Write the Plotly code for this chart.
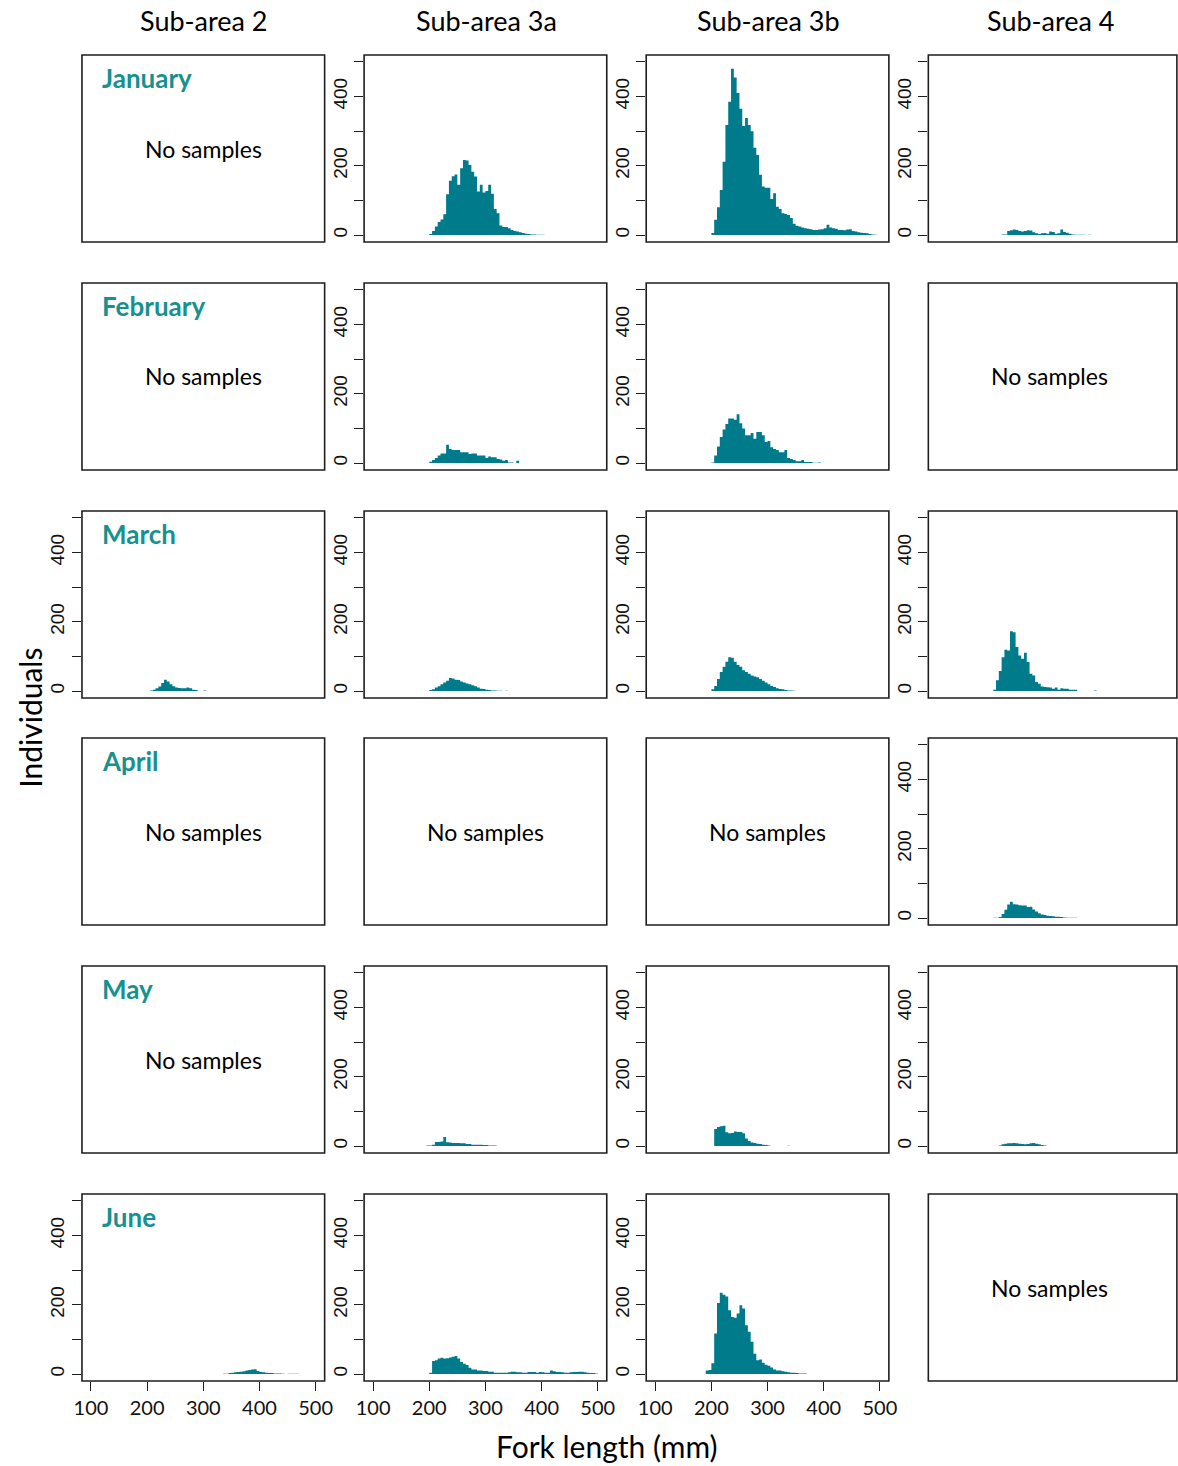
import plotly.graph_objects as go

# ---------------- data (counts per 5 mm fork-length bin) ----------------
BIN = 5
col_titles = ["Sub-area 2", "Sub-area 3a", "Sub-area 3b", "Sub-area 4"]
months = ["January", "February", "March", "April", "May", "June"]
x_tickvals = [100, 200, 300, 400, 500]
y_tickvals = [0, 100, 200, 300, 400, 500]
y_ticktext = ["0", "", "200", "", "400", ""]

jan_3a_start = 200
jan_3a = [3, 12, 25, 38, 45, 60, 118, 157, 170, 175, 145, 193, 217, 215, 202, 183, 169, 126, 145, 123,
          127, 145, 119, 75, 63, 28, 23, 23, 20, 15, 12, 10, 8, 6, 4, 3, 2, 2, 1, 1, 1]
jan_3b_start = 200
jan_3b = [6, 44, 80, 130, 212, 318, 385, 480, 455, 410, 365, 315, 338, 318, 300, 252, 231, 174, 140, 137,
          137, 104, 121, 82, 75, 63, 61, 58, 49, 33, 27, 25, 22, 20, 18, 17, 15, 15, 16, 17,
          20, 30, 22, 20, 18, 15, 15, 14, 16, 17, 12, 10, 8, 7, 6, 5, 3, 2, 1]
jan_4_start = 215
jan_4 = [2, 2, 12, 14, 16, 15, 12, 10, 12, 14, 13, 8, 5, 3, 5, 6, 4, 10, 9, 4, 5, 16, 9, 7, 4, 2, 1, 1, 1, 1, 0, 1]

feb_3a_start = 200
feb_3a = [4, 9, 15, 22, 28, 28, 53, 41, 38, 38, 38, 31, 31, 31, 26, 28, 28, 22, 22, 22, 15, 19, 17, 17, 12,
          10, 7, 9, 2, 2, 0, 7]
feb_3b_start = 200
feb_3b = [2, 22, 48, 75, 97, 113, 129, 129, 125, 141, 115, 100, 80, 80, 87, 70, 90, 90, 80, 61, 64, 46, 41,
          38, 31, 31, 38, 15, 12, 9, 5, 5, 9, 3, 3, 3, 1, 1, 2]

mar_2_start = 205
mar_2 = [2, 4, 8, 13, 23, 33, 28, 20, 14, 10, 9, 8, 8, 10, 8, 4, 3, 0, 0, 2]
mar_3a_start = 200
mar_3a = [3, 5, 10, 14, 20, 25, 30, 38, 36, 33, 32, 28, 25, 22, 20, 17, 14, 10, 7, 6, 4, 3, 2, 2, 1, 1, 0, 1]
mar_3b_start = 200
mar_3b = [5, 15, 35, 55, 70, 85, 98, 96, 85, 75, 70, 60, 55, 50, 45, 42, 40, 35, 30, 25, 20, 15, 12, 8, 6,
          5, 3, 2, 2, 1]
mar_4_start = 200
mar_4 = [4, 31, 58, 98, 119, 117, 173, 170, 127, 103, 93, 111, 84, 50, 45, 26, 21, 13, 12, 11, 10, 7, 10, 4,
         8, 7, 7, 4, 4, 4, 0, 0, 0, 0, 0, 0, 2]

apr_4_start = 200
apr_4 = [1, 1, 3, 12, 24, 39, 47, 40, 39, 37, 36, 36, 32, 33, 25, 19, 14, 10, 9, 7, 6, 5, 4, 4, 3, 2, 1, 1, 1, 1]

may_3a_start = 195
may_3a = [2, 2, 4, 12, 12, 13, 26, 11, 10, 9, 9, 9, 8, 8, 6, 6, 4, 4, 4, 4, 3, 3, 2, 2, 2]
may_3b_start = 205
may_3b = [49, 55, 57, 59, 40, 37, 38, 42, 41, 41, 37, 22, 15, 10, 9, 7, 6, 4, 3, 2, 0, 0, 0, 0, 0, 0, 1]
may_4_start = 210
may_4 = [2, 5, 7, 8, 8, 9, 8, 7, 6, 5, 6, 8, 9, 7, 5, 3, 2]

jun_2_start = 335
jun_2 = [1, 1, 3, 4, 5, 6, 7, 8, 10, 12, 13, 14, 9, 6, 5, 4, 3, 3, 2, 2, 2, 1, 0, 1, 1, 1, 1]
jun_3a_start = 200
jun_3a = [4, 38, 40, 45, 47, 45, 46, 48, 50, 52, 45, 35, 30, 26, 18, 13, 13, 10, 10, 9, 9, 7, 7, 4, 4, 4, 4,
          4, 5, 7, 7, 5, 5, 4, 4, 6, 6, 6, 4, 6, 5, 4, 4, 10, 8, 6, 6, 5, 4, 4, 5, 6, 6, 7, 7, 5, 4, 3, 3, 2]
jun_3b_start = 190
jun_3b = [10, 12, 31, 117, 205, 235, 229, 224, 184, 165, 163, 175, 199, 189, 141, 122, 93, 59, 40, 42, 33,
          27, 24, 19, 13, 10, 10, 8, 7, 5, 4, 4, 3, 2, 2, 2]

# (row, col) -> (start, counts); panels not listed have "No samples"
panels = {
    (0, 1): (jan_3a_start, jan_3a), (0, 2): (jan_3b_start, jan_3b), (0, 3): (jan_4_start, jan_4),
    (1, 1): (feb_3a_start, feb_3a), (1, 2): (feb_3b_start, feb_3b),
    (2, 0): (mar_2_start, mar_2), (2, 1): (mar_3a_start, mar_3a), (2, 2): (mar_3b_start, mar_3b),
    (2, 3): (mar_4_start, mar_4),
    (3, 3): (apr_4_start, apr_4),
    (4, 1): (may_3a_start, may_3a), (4, 2): (may_3b_start, may_3b), (4, 3): (may_4_start, may_4),
    (5, 0): (jun_2_start, jun_2), (5, 1): (jun_3a_start, jun_3a), (5, 2): (jun_3b_start, jun_3b),
}
x_axis_panels = {(5, 0), (5, 1), (5, 2)}

# ---------------- layout geometry (pixels) ----------------
W, H = 1178, 1466
col_left = [75, 361, 647, 933]
panel_w = 246
row_top = [55, 283, 511, 738, 966, 1194]
panel_h = 187

BAR_COLOR = "#007B8C"
LABEL_TEAL = "#17918F"
BOX_COLOR = "#1e1e1e"


def px(x):
    return x / W


def py(y):
    return 1 - y / H


fig = go.Figure()
layout = dict(
    width=W, height=H, autosize=False, margin=dict(l=0, r=0, t=0, b=0, pad=0),
    paper_bgcolor="white", plot_bgcolor="rgba(0,0,0,0)",
    showlegend=False,
    font=dict(family="Lato, sans-serif", color="black"),
)
shapes = []
annotations = []

for r in range(6):
    for c in range(4):
        k = r * 4 + c + 1
        xa = "xaxis" if k == 1 else f"xaxis{k}"
        ya = "yaxis" if k == 1 else f"yaxis{k}"
        x0 = col_left[c]
        x1 = x0 + panel_w
        y0 = row_top[r]
        y1 = y0 + panel_h
        has_data = (r, c) in panels
        show_x = (r, c) in x_axis_panels
        layout[xa] = dict(
            domain=[px(x0), min(px(x1), 1.0)], anchor=f"y{k}" if k > 1 else "y",
            range=[84, 516], showgrid=False, zeroline=False, showline=False,
            tickmode="array", tickvals=x_tickvals if show_x else [],
            ticks="outside" if show_x else "", ticklen=9, tickwidth=1.3, tickcolor=BOX_COLOR,
            showticklabels=show_x,
            tickfont=dict(family="Lato, sans-serif", size=20, color="#111"),
            fixedrange=True,
        )
        layout[ya] = dict(
            domain=[py(y1), py(y0)], anchor=f"x{k}" if k > 1 else "x",
            range=[-20, 520], showgrid=False, zeroline=False, showline=False,
            tickmode="array", tickvals=y_tickvals if has_data else [],
            ticktext=y_ticktext if has_data else [],
            ticks="outside" if has_data else "", ticklen=9, tickwidth=1.3, tickcolor=BOX_COLOR,
            showticklabels=has_data, tickangle=-90,
            tickfont=dict(family="Liberation Sans, Arial, sans-serif", size=19, color="#111"),
            fixedrange=True,
        )
        # panel box (right side of column 4 runs off the page, as in the original)
        shapes.append(dict(type="rect", xref="paper", yref="paper",
                           x0=px(x0), x1=px(x1 + (6 if c == 3 else 0)), y0=py(y1), y1=py(y0),
                           line=dict(color=BOX_COLOR, width=1.6), fillcolor="rgba(0,0,0,0)", layer="above"))
        if has_data:
            start, counts = panels[(r, c)]
            # histogram drawn as a filled step outline (bin edges -> counts)
            edges = [start + BIN * i for i in range(len(counts) + 1)]
            fig.add_trace(go.Scatter(
                x=edges, y=list(counts) + [counts[-1]], mode="lines",
                line=dict(shape="hv", width=0, color=BAR_COLOR),
                fill="tozeroy", fillcolor=BAR_COLOR,
                xaxis=f"x{k}" if k > 1 else "x", yaxis=f"y{k}" if k > 1 else "y",
                hoverinfo="x+y",
            ))
        else:
            annotations.append(dict(
                text="No samples", xref="paper", yref="paper",
                x=px(x0 + panel_w / 2), y=py(y0 + panel_h / 2), xanchor="center", yanchor="middle",
                showarrow=False, font=dict(family="Lato, sans-serif", size=23, color="black")))
        if c == 0:
            annotations.append(dict(
                text=f"<b>{months[r]}</b>", xref="paper", yref="paper",
                x=px(x0 + 18), y=py(y0 + 23), xanchor="left", yanchor="middle",
                showarrow=False, font=dict(family="Lato, sans-serif", size=26, color=LABEL_TEAL)))

for c, t in enumerate(col_titles):
    annotations.append(dict(
        text=t, xref="paper", yref="paper", x=px(col_left[c] + panel_w / 2 + 1), y=py(20),
        xanchor="center", yanchor="middle", showarrow=False,
        font=dict(family="Lato, sans-serif", size=27, color="black")))

annotations.append(dict(
    text="Fork length (mm)", xref="paper", yref="paper", x=px(607), y=py(1446),
    xanchor="center", yanchor="middle", showarrow=False,
    font=dict(family="Lato, sans-serif", size=30, color="black")))
annotations.append(dict(
    text="Individuals", xref="paper", yref="paper", x=px(22), y=py(718),
    xanchor="center", yanchor="middle", textangle=-90, showarrow=False,
    font=dict(family="Lato, sans-serif", size=30, color="black")))

layout["shapes"] = shapes
layout["annotations"] = annotations
fig.update_layout(**layout)

POST = (
    "var gd=document.getElementById('{plot_id}');"
    "var de=document.documentElement, b=document.body;"
    "de.style.margin='0';de.style.padding='0';de.style.overflow='hidden';"
    "b.style.margin='0';b.style.padding='0';b.style.overflow='hidden';"
    "gd.style.position='absolute';gd.style.left='0px';gd.style.top='0px';"
)
fig.write_html("out.html", config={"responsive": False, "displayModeBar": False}, post_script=POST)
